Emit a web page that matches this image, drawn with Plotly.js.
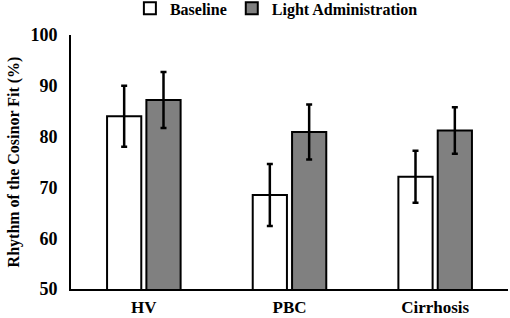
<!DOCTYPE html>
<html><head><meta charset="utf-8">
<script src="https://cdn.plot.ly/plotly-3.0.1.min.js"></script>
<style>html,body{margin:0;padding:0;background:#fff}#chart{width:510px;height:318px}</style>
</head><body><div id="chart"></div>
<script>
const categories = ['HV', 'PBC', 'Cirrhosis'];
const baseline = [84.0, 68.5, 72.1];
const baselineErr = [6.0, 6.1, 5.1];
const light = [87.2, 80.9, 81.2];
const lightErr = [5.5, 5.4, 4.6];
const yTicks = [50, 60, 70, 80, 90, 100];

const font = {family: 'Liberation Serif, Times New Roman, serif', color: '#000'};
const traces = [
  {type: 'bar', name: '<b>Baseline</b>', x: categories, y: baseline,
   marker: {color: '#ffffff', line: {color: '#000', width: 2}},
   error_y: {type: 'data', array: baselineErr, visible: true, color: '#000', thickness: 2.5, width: 3}},
  {type: 'bar', name: '<b>Light Administration</b>', x: categories, y: light,
   marker: {color: '#808080', line: {color: '#000', width: 2}},
   error_y: {type: 'data', array: lightErr, visible: true, color: '#000', thickness: 2.5, width: 3}}
];
const layout = {
  width: 510, height: 318,
  margin: {l: 71, r: 2, t: 35, b: 29},
  paper_bgcolor: '#fff', plot_bgcolor: '#fff',
  font: Object.assign({size: 17}, font),
  bargap: 0.46, bargroupgap: 0.13,
  showlegend: true,
  legend: {orientation: 'h', x: 0.47, xanchor: 'center', y: 0.92, yanchor: 'bottom',
           yref: 'container', font: Object.assign({size: 16}, font), itemwidth: 30, tracegroupgap: 0},
  xaxis: {showline: true, linecolor: '#000', linewidth: 2, ticks: '', showgrid: false,
          tickfont: Object.assign({size: 17, weight: 'bold'}, font), ticklabelstandoff: 2},
  yaxis: {range: [50, 100], tickvals: yTicks, showline: true, linecolor: '#000', linewidth: 2,
          ticks: '', showgrid: false, zeroline: false,
          tickfont: Object.assign({size: 18, weight: 'bold'}, font), ticklabelstandoff: 8,
          title: {text: '<b>Rhythm of the Cosinor Fit (%)</b>', font: Object.assign({size: 16}, font), standoff: 7}}
};
Plotly.newPlot('chart', traces, layout, {displayModeBar: false, staticPlot: true});
</script></body></html>
